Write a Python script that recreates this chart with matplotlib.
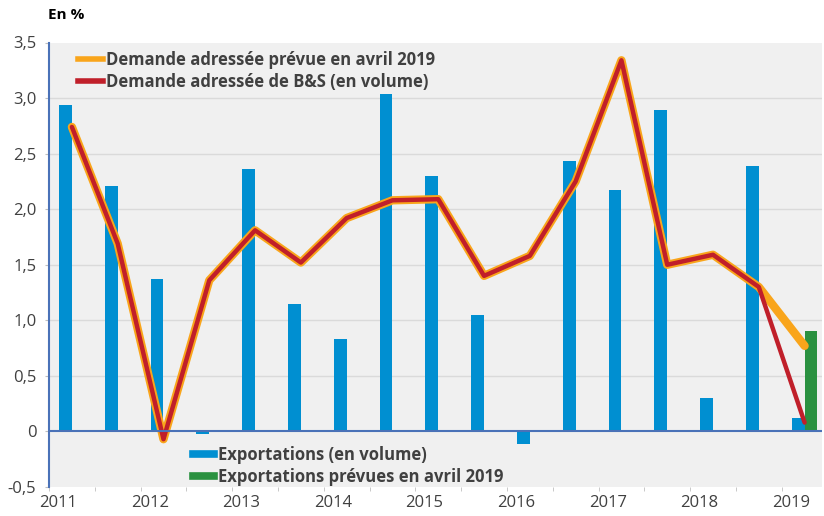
import matplotlib
matplotlib.use("Agg")
import matplotlib.pyplot as plt
from matplotlib.lines import Line2D
import numpy as np

# semestres 2011 S1 .. 2019 S1
years = ["2011", "2012", "2013", "2014", "2015", "2016", "2017", "2018", "2019"]
exports = [2.94, 2.21, 1.37, -0.02, 2.36, 1.15, 0.83, 3.04, 2.30,
           1.05, -0.11, 2.43, 2.17, 2.89, 0.30, 2.39, 0.12]
exports_forecast = [0.90]
demand_forecast = [2.74, 1.69, -0.07, 1.36, 1.81, 1.52, 1.92, 2.08, 2.09,
                   1.40, 1.58, 2.25, 3.34, 1.50, 1.59, 1.30, 0.77]
demand_bs = [2.74, 1.69, -0.07, 1.36, 1.81, 1.52, 1.92, 2.08, 2.09,
             1.40, 1.58, 2.25, 3.34, 1.50, 1.59, 1.30, 0.08]

blue = "#008FD1"
green = "#2A9140"
orange = "#F9A51B"
red = "#C01F2A"
txt = "#404040"
axblue = "#4A72B8"

plt.rcParams["font.family"] = ["Open Sans", "DejaVu Sans"]

fig = plt.figure(figsize=(8.24, 5.16), dpi=100)
ax = fig.add_axes([49 / 824, 1 - 487 / 516, 773 / 824, (487 - 42.5) / 516])
ax.set_facecolor("#F0F0F0")

x = np.arange(len(exports))
w = 0.28
ax.bar(x - w / 2, exports, w, color=blue, zorder=2)
ax.bar(x[-1:] + w / 2, exports_forecast, w, color=green, zorder=2)

ax.plot(x, demand_forecast, color=orange, lw=6, solid_capstyle="round",
        solid_joinstyle="round", zorder=3)
ax.plot(x, demand_bs, color=red, lw=3.2, solid_capstyle="round",
        solid_joinstyle="round", zorder=4)

ax.set_xlim(-0.5, 16.38)
ax.set_ylim(-0.5, 3.5)

yt = np.arange(-0.5, 3.51, 0.5)
ax.set_yticks(yt)
ax.set_yticklabels([("%.1f" % v).replace(".", ",") if v != 0 else "0" for v in yt],
                   color=txt, fontsize=12)
ax.tick_params(axis="y", length=3, color="#BFBFBF", pad=6)
for v in yt[1:-1]:
    if v != 0:
        ax.axhline(v, color="#DADADA", lw=1, zorder=1)
ax.axhline(0, color=axblue, lw=1.5, zorder=5)

ax.set_xticks(np.arange(-0.5, 16.5, 1), minor=True)
ax.set_xticks(np.arange(-0.3, 16.5, 2))
ax.set_xticklabels(years, color=txt, fontsize=12)
ax.tick_params(axis="x", which="major", length=0, pad=6)
ax.tick_params(axis="x", which="minor", length=3, color="#BFBFBF")

for s in ["top", "right", "bottom"]:
    ax.spines[s].set_visible(False)
ax.spines["left"].set_color(axblue)
ax.spines["left"].set_linewidth(1.5)

fig.text(48 / 824, 1 - 15 / 516, "En %", fontsize=11, fontweight="bold",
         color="black", va="center")

h1 = [Line2D([], [], color=orange, lw=4), Line2D([], [], color=red, lw=4)]
leg1 = ax.legend(h1, ["Demande adressée prévue en avril 2019",
                      "Demande adressée de B&S (en volume)"],
                 loc="upper left", bbox_to_anchor=(0.037, 0.982), frameon=False,
                 handlelength=1.55, handletextpad=0.15, labelspacing=0.25,
                 borderpad=0, borderaxespad=0,
                 prop={"size": 12, "weight": "bold"})
for t in leg1.get_texts():
    t.set_color(txt)
ax.add_artist(leg1)

h2 = [Line2D([], [], color=blue, lw=5.5), Line2D([], [], color=green, lw=5.5)]
leg2 = ax.legend(h2, ["Exportations (en volume)", "Exportations prévues en avril 2019"],
                 loc="upper left", bbox_to_anchor=(0.186, 0.092), frameon=False,
                 handlelength=1.3, handletextpad=0.2, labelspacing=0.25,
                 borderpad=0, borderaxespad=0,
                 prop={"size": 12, "weight": "bold"})
for t in leg2.get_texts():
    t.set_color(txt)

fig.savefig("out.png", dpi=100, facecolor="white")
